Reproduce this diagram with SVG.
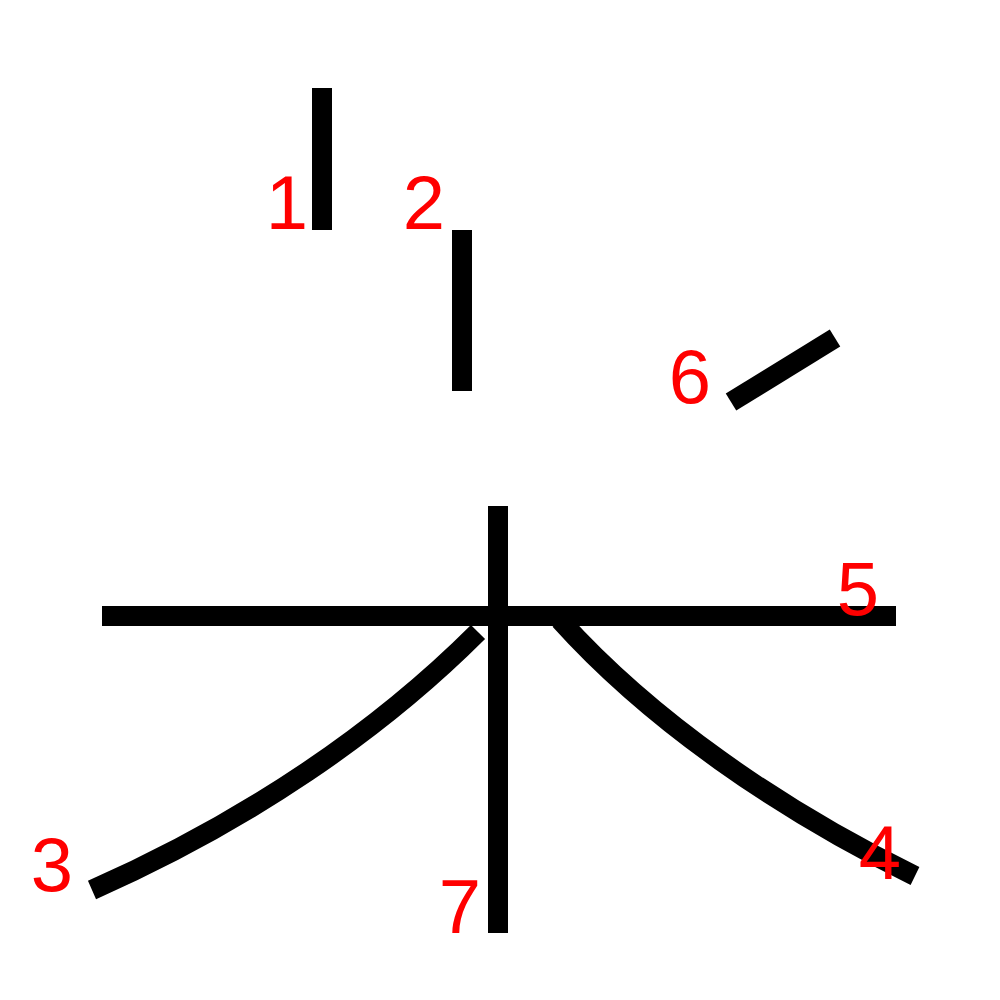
<svg xmlns="http://www.w3.org/2000/svg" width="1000" height="1000" viewBox="0 0 1000 1000">
<style>
.s{fill:none;stroke:#000;stroke-width:20;stroke-linecap:butt}
.n{fill:#f00;font-family:"Liberation Sans",Arial,sans-serif;font-size:76px;text-anchor:middle}
</style>
<rect width="1000" height="1000" fill="#fff"/>
<g id="strokes">
<g id="s1"><line class="s" x1="322" y1="88" x2="322" y2="230"/></g>
<g id="s2"><line class="s" x1="462" y1="230" x2="462" y2="391"/></g>
<g id="s3"><path class="s" d="M478,632 C380,730 250,820 92,890"/></g>
<g id="s4"><path class="s" d="M560,620 C650,720 780,810 915,876"/></g>
<g id="s5"><line class="s" x1="102" y1="616" x2="896" y2="616"/></g>
<g id="s6"><line class="s" x1="731" y1="402" x2="835" y2="338"/></g>
<g id="s7"><line class="s" x1="498" y1="506" x2="498" y2="933"/></g>
</g>
<g id="labels">
<text class="n" x="287" y="229">1</text>
<text class="n" x="424" y="229">2</text>
<text class="n" x="52" y="891">3</text>
<text class="n" x="880" y="879">4</text>
<text class="n" x="858" y="615">5</text>
<text class="n" x="690" y="403">6</text>
<text class="n" x="460" y="933">7</text>
</g>
</svg>
